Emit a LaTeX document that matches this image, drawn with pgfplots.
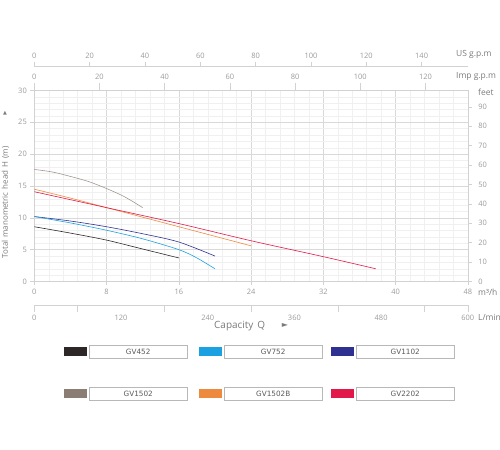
\documentclass[border=0pt]{standalone}
\usepackage{fontspec}
\setmainfont{Open Sans}
\newfontfamily\dejavu{DejaVu Sans}
\usepackage{pgfplots}
\pgfplotsset{compat=1.18}

\definecolor{lab}{HTML}{9A9A9A}
\definecolor{ttl}{HTML}{7A7A7A}
\definecolor{axl}{HTML}{D2D2D2}
\definecolor{cGVa}{HTML}{2D2728}
\definecolor{cGVb}{HTML}{1BA1E2}
\definecolor{cGVc}{HTML}{2E3192}
\definecolor{cGVd}{HTML}{8C7D74}
\definecolor{cGVe}{HTML}{EE8A3E}
\definecolor{cGVf}{HTML}{E2184A}

\pgfplotsset{
  every axis/.append style={
    scale only axis, width=433.5bp,
    /pgf/number format/assume math mode=true,
    tick label style={font=\fontsize{7.5}{9}\selectfont, text=lab},
    axis line style={axl}, tick style={axl, line width=0.5pt},
    tick align=outside,
  },
}

% one legend entry: swatch + framed label
\newcommand{\legitem}[4]{%
  \fill[#3] (#1,#2-4.5) rectangle (#1+23,#2+4.5);
  \draw[line width=0.8pt, draw=black!28] (#1+25.5,#2-6.3) rectangle (#1+123,#2+6.3);
  \node[font=\dejavu\fontsize{7.3}{8}\selectfont, text=black!65] at (#1+74.2,#2) {#4};
}

\begin{document}
\begin{tikzpicture}[x=1bp,y=1bp]
\useasboundingbox (0,0) rectangle (500,450);

% main chart, m3/h against m
\begin{axis}[
  at={(34.3bp,168.5bp)}, anchor=south west, height=191bp,
  xmin=0, xmax=48, ymin=0, ymax=30,
  xtick={0,8,...,48}, ytick={0,5,...,30},
  minor x tick num=4, minor y tick num=4,
  xtick pos=left, ytick pos=left,
  major tick length=4bp, minor tick length=0pt,
  grid=both,
  major grid style={line width=0.5pt, black!15},
  minor grid style={line width=0.4pt, black!6},
  every axis plot/.append style={line width=0.6pt, no marks, smooth},
]
\addplot[cGVd!80] coordinates {(0,17.6)(2,17.2)(4,16.5)(6,15.7)(8,14.6)(10,13.3)(12,11.6)};
\addplot[cGVe] coordinates {(0,14.5)(4,13.1)(8,11.6)(12,10.1)(16,8.6)(20,7.1)(24,5.6)};
\addplot[cGVf] coordinates {(0,14.1)(8,11.6)(16,9.1)(24,6.4)(32,3.9)(37.8,2.0)};
\addplot[cGVc] coordinates {(0,10.2)(4,9.5)(8,8.6)(12,7.5)(16,6.2)(20,4.0)};
\addplot[cGVb] coordinates {(0,10.2)(4,9.2)(8,8.05)(12,6.7)(16,5.0)(18,3.7)(20,2.0)};
\addplot[cGVa] coordinates {(0,8.6)(4,7.6)(8,6.5)(12,5.1)(16,3.7)};
\end{axis}

% feet, right
\begin{axis}[
  at={(34.3bp,168.5bp)}, anchor=south west, height=191bp,
  xmin=0, xmax=48, ymin=0, ymax=98.425,
  axis x line=none, axis y line*=right,
  ytick={0,10,...,90}, major tick length=4bp,
  yticklabel style={xshift=3bp},
]
\end{axis}

% Imp g.p.m, top of the frame
\begin{axis}[
  at={(34.3bp,168.5bp)}, anchor=south west, height=191bp,
  xmin=0, xmax=133, ymin=0, ymax=1,
  axis y line=none, axis x line*=top,
  xtick={0,20,...,120}, major tick length=7bp,
]
\end{axis}

% US g.p.m
\begin{axis}[
  at={(34.3bp,383bp)}, anchor=south west, height=1bp,
  xmin=0, xmax=156.7, ymin=0, ymax=1,
  axis y line=none, axis x line*=top,
  xtick={0,20,...,140}, major tick length=4bp,
]
\end{axis}

% L/min
\begin{axis}[
  at={(34.3bp,145.7bp)}, anchor=north west, height=1bp,
  xmin=0, xmax=600, ymin=0, ymax=1,
  axis y line=none, axis x line*=bottom,
  xtick={0,120,...,600}, major tick length=0pt,
  minor xtick={0,60,180,300,420,540,600}, minor tick length=7bp,
  xticklabel style={yshift=-6bp},
]
\end{axis}

% units and titles
\begin{scope}[every node/.style={font=\fontsize{8.5}{10}\selectfont, text=ttl, inner sep=0pt}]
\node[anchor=west] at (456,396) {US g.p.m};
\node[anchor=west] at (456,373) {Imp g.p.m};
\node[anchor=west] at (478,358) {feet};
\node[anchor=west] at (478,157.3) {m³/h};
\node[anchor=west] at (478,132.3) {L/min};
\end{scope}
\node[anchor=west, font=\fontsize{10}{12}\selectfont, text=ttl, inner sep=0pt] at (214,124) {Capacity\hspace{4bp}Q};
\node[font=\dejavu\fontsize{8}{9}\selectfont, text=ttl, inner sep=0pt] at (285,124.5) {►};
\node[rotate=90, font=\fontsize{8}{10}\selectfont, text=ttl, inner sep=0pt] at (5.5,247.5)
  {Total\hspace{3bp}manometric\hspace{3bp}head\hspace{3bp}H\hspace{3bp}(m)};
\node[font=\dejavu\fontsize{5}{6}\selectfont, text=ttl, inner sep=0pt] at (5,337) {▲};

% legend
\legitem{64}{98.3}{cGVa}{GV452}
\legitem{199}{98.3}{cGVb}{GV752}
\legitem{331}{98.3}{cGVc}{GV1102}
\legitem{64}{56.3}{cGVd}{GV1502}
\legitem{199}{56.3}{cGVe}{GV1502B}
\legitem{331}{56.3}{cGVf}{GV2202}
\end{tikzpicture}
\end{document}
